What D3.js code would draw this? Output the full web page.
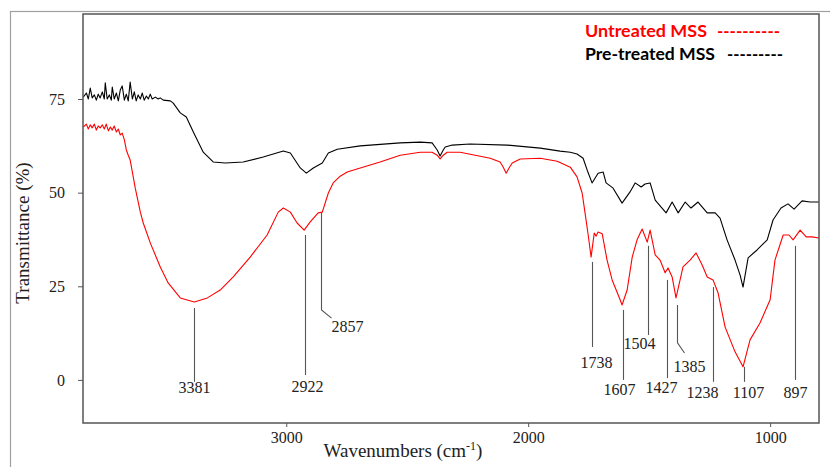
<!DOCTYPE html>
<html>
<head>
<meta charset="utf-8">
<script src="https://cdnjs.cloudflare.com/ajax/libs/d3/7.8.5/d3.min.js"></script>
<style>
  body { margin: 0; background: #fff; }
  svg { display: block; }
  .serif { font-family: "Liberation Serif", "Times New Roman", serif; }
  .legend { font-family: Lato, "Open Sans", sans-serif; font-weight: bold; }
</style>
</head>
<body>
<svg id="chart" width="830" height="467"></svg>
<script>
// [wavenumber cm-1, transmittance %]
const untreatedMSS = [
  [3839,67.5],[3826,68.3],[3818,67.0],[3810,68.1],[3802,67.3],[3793,68.3],[3785,66.7],[3777,67.8],
  [3769,67.3],[3760,68.1],[3752,67.0],[3744,68.3],[3735,66.5],[3727,67.5],[3719,66.7],[3711,67.8],
  [3702,66.2],[3694,67.0],[3686,65.4],[3678,65.9],[3669,64.1],[3661,61.4],[3653,60.0],[3645,58.7],
  [3624,51.2],[3603,44.8],[3591,41.9],[3562,36.6],[3521,30.2],[3488,25.9],[3438,21.9],[3380,20.8],
  [3326,21.9],[3273,24.0],[3219,27.5],[3149,32.8],[3079,38.7],[3033,44.8],[3012,45.9],[2983,44.8],
  [2955,41.9],[2926,40.0],[2901,42.2],[2868,44.6],[2851,44.8],[2826,49.9],[2806,52.6],[2777,54.4],
  [2748,55.5],[2694,56.6],[2612,58.2],[2529,60.0],[2446,60.8],[2397,60.8],[2376,60.0],[2364,59.0],
  [2351,60.0],[2335,60.8],[2281,60.8],[2157,59.2],[2116,58.2],[2103,56.8],[2091,55.2],[2079,56.6],
  [2066,57.9],[2033,59.0],[1950,59.2],[1880,58.4],[1826,56.8],[1798,54.2],[1777,49.9],[1765,44.6],
  [1752,38.7],[1740,32.8],[1727,39.2],[1719,38.4],[1711,39.5],[1694,39.0],[1674,32.0],[1653,26.7],
  [1620,21.4],[1612,20.0],[1591,24.0],[1570,32.8],[1550,37.4],[1529,40.3],[1508,36.8],[1496,40.0],
  [1475,33.4],[1455,32.0],[1434,28.6],[1422,29.9],[1405,27.5],[1389,21.9],[1360,30.2],[1331,32.0],
  [1306,33.9],[1281,30.7],[1260,27.5],[1236,26.7],[1215,23.2],[1186,14.1],[1145,7.5],[1112,3.5],
  [1083,10.7],[1042,15.2],[1000,21.4],[980,32.0],[946,38.7],[922,38.7],[905,37.4],[876,40.0],
  [851,38.2],[827,38.2],[798,37.9]
];

const pretreatedMSS = [
  [3839,75.5],[3826,76.6],[3818,75.0],[3810,77.9],[3802,75.3],[3793,76.1],[3785,74.7],[3777,76.3],
  [3769,75.3],[3760,76.9],[3752,75.0],[3748,79.3],[3740,75.0],[3731,76.1],[3723,74.7],[3719,78.2],
  [3711,75.0],[3702,76.6],[3694,74.5],[3686,77.4],[3678,78.5],[3669,74.7],[3661,76.3],[3653,74.5],
  [3645,79.5],[3636,75.0],[3628,76.9],[3620,74.5],[3612,76.1],[3603,75.0],[3595,76.6],[3587,74.7],
  [3578,75.8],[3570,75.0],[3562,76.3],[3554,75.0],[3541,75.5],[3529,75.0],[3521,75.3],[3508,74.7],
  [3479,74.5],[3467,73.9],[3438,71.3],[3413,70.2],[3384,66.2],[3343,60.8],[3302,58.2],[3252,57.9],
  [3178,58.2],[3095,59.5],[3012,61.1],[2983,60.6],[2942,56.6],[2917,55.2],[2888,56.6],[2851,57.9],
  [2826,60.6],[2789,61.6],[2694,62.5],[2529,63.3],[2446,63.5],[2397,63.3],[2376,61.4],[2364,59.8],
  [2351,61.4],[2343,62.2],[2314,62.7],[2240,63.0],[2087,62.7],[1950,61.9],[1868,61.1],[1826,60.8],
  [1798,60.3],[1773,59.2],[1756,56.0],[1736,52.6],[1711,55.2],[1690,55.5],[1678,52.6],[1649,51.2],
  [1612,47.2],[1579,50.2],[1558,52.6],[1533,51.5],[1517,52.3],[1496,52.6],[1475,48.0],[1430,44.6],
  [1405,47.5],[1380,44.6],[1351,47.5],[1327,45.9],[1298,47.5],[1260,44.6],[1227,44.6],[1207,43.2],
  [1178,37.4],[1145,32.0],[1124,28.0],[1112,24.8],[1091,32.6],[1054,34.7],[1012,37.4],[988,42.7],
  [955,45.9],[926,47.0],[901,45.6],[868,47.8],[835,47.5],[798,47.5]
];

const peakLabels = [3381, 2922, 2857, 1738, 1607, 1504, 1427, 1385, 1238, 1107, 897];
const xTicks = [3000, 2000, 1000];
const yTicks = [0, 25, 50, 75];
const legendNames = ["Untreated MSS", "Pre-treated MSS"];
const legendColors = ["#ff0000", "#000000"];

// leader layout per peak: line top / bottom (in %T), optional elbow [dx px, %T], label dx px, label baseline %T
const peakLeaders = [
  {top: 19.2, bottom: -0.5, elbow: null, dx: 0, label: -3.6},
  {top: 38.7, bottom: 1.3, elbow: null, dx: 2, label: -3.3},
  {top: 44.6, bottom: 18.7, elbow: [10, 16.5], dx: 26, label: 12.8},
  {top: 31.5, bottom: 8.8, elbow: null, dx: 4, label: 3.2},
  {top: 18.7, bottom: 0, elbow: null, dx: -4, label: -4.0},
  {top: 35.8, bottom: 12.0, elbow: null, dx: -9, label: 8.3},
  {top: 26.7, bottom: 0.5, elbow: null, dx: -6, label: -3.5},
  {top: 20.0, bottom: 9.9, elbow: [7, 7.2], dx: 12, label: 2.1},
  {top: 24.8, bottom: -0.5, elbow: null, dx: -11, label: -4.8},
  {top: 3.5, bottom: -0.5, elbow: null, dx: 4, label: -4.8},
  {top: 35.8, bottom: 0, elbow: null, dx: 0, label: -4.8}
];

var width = 830, height = 467;
var plot = {left: 83, right: 819, top: 14, bottom: 423};

var svg = d3.select("#chart");

var x = d3.scaleLinear().domain([3840, 798]).range([plot.left, plot.right]);
var y = d3.scaleLinear().domain([-11.5, 97.7]).range([plot.bottom, plot.top]);

// outer light frame
svg.append("rect")
  .attr("x", 10.5).attr("y", 11.5)
  .attr("width", 900).attr("height", 500)
  .attr("fill", "none").attr("stroke", "#a0a0a0").attr("stroke-width", 1.2);

svg.append("defs").append("clipPath").attr("id", "clip")
  .append("rect")
  .attr("x", plot.left).attr("y", plot.top)
  .attr("width", plot.right - plot.left).attr("height", plot.bottom - plot.top);

var line = d3.line()
  .x(function(d) { return x(d[0]); })
  .y(function(d) { return y(d[1]); });

var series = [untreatedMSS, pretreatedMSS];
svg.append("g").attr("clip-path", "url(#clip)")
  .selectAll("path")
  .data(series)
  .enter().append("path")
  .attr("d", line)
  .attr("fill", "none")
  .attr("stroke", function(d, i) { return legendColors[i]; })
  .attr("stroke-width", 1.1)
  .attr("stroke-linejoin", "round");

// peak leaders
var peaks = svg.append("g").attr("class", "serif");
peakLabels.forEach(function(p, i) {
  var L = peakLeaders[i];
  var px = Math.round(x(p)) + 0.5;
  var pts = [[px, y(L.top)], [px, y(L.bottom)]];
  if (L.elbow) pts.push([px + L.elbow[0], y(L.elbow[1])]);
  peaks.append("path")
    .attr("d", d3.line()(pts))
    .attr("fill", "none")
    .attr("stroke", "#555")
    .attr("stroke-width", 1.1);
  peaks.append("text")
    .attr("x", px + L.dx)
    .attr("y", y(L.label))
    .attr("text-anchor", "middle")
    .attr("font-size", 16)
    .attr("fill", "#222")
    .text(p);
});

// axes
var xAxis = svg.append("g")
  .attr("transform", "translate(0," + plot.bottom + ")")
  .call(d3.axisBottom(x).tickValues(xTicks).tickFormat(d3.format("d")).tickSize(4).tickPadding(5));
var yAxis = svg.append("g")
  .attr("transform", "translate(" + plot.left + ",0)")
  .call(d3.axisLeft(y).tickValues(yTicks).tickSize(5).tickPadding(13));

[xAxis, yAxis].forEach(function(g) {
  g.select(".domain").remove();
  g.selectAll(".tick line").attr("stroke", "#555");
  g.selectAll(".tick text")
    .attr("font-family", "Liberation Serif, Times New Roman, serif")
    .attr("font-size", 16)
    .attr("fill", "#222");
});

// plot frame
svg.append("rect")
  .attr("x", plot.left).attr("y", plot.top)
  .attr("width", plot.right - plot.left).attr("height", plot.bottom - plot.top)
  .attr("fill", "none").attr("stroke", "#555").attr("stroke-width", 1.5);

// axis titles
var xt = svg.append("text").attr("class", "serif")
  .attr("x", 403).attr("y", 457)
  .attr("text-anchor", "middle")
  .attr("font-size", 19)
  .attr("fill", "#222");
xt.append("tspan").text("Wavenumbers (cm");
xt.append("tspan").attr("font-size", 12).attr("dy", -7).text("-1");
xt.append("tspan").attr("dy", 7).text(")");

svg.append("text").attr("class", "serif")
  .attr("transform", "translate(29,233) rotate(-90)")
  .attr("text-anchor", "middle")
  .attr("font-size", 19)
  .attr("fill", "#222")
  .text("Transmittance (%)");

// legend
var legend = svg.append("g").attr("class", "legend").attr("font-size", 17);
var legendDash = ["----------", "---------"];
var legendNameLen = [122, 130];
var legendDashX = [717, 727];
var legendDashLen = [63, 56];
legendNames.forEach(function(name, i) {
  var ly = 37 + i * 23;
  legend.append("text")
    .attr("x", 585).attr("y", ly)
    .attr("fill", legendColors[i])
    .attr("textLength", legendNameLen[i])
    .attr("lengthAdjust", "spacingAndGlyphs")
    .text(name);
  legend.append("text")
    .attr("x", legendDashX[i]).attr("y", ly)
    .attr("fill", legendColors[i])
    .attr("textLength", legendDashLen[i])
    .attr("lengthAdjust", "spacingAndGlyphs")
    .text(legendDash[i]);
});
</script>
</body>
</html>
